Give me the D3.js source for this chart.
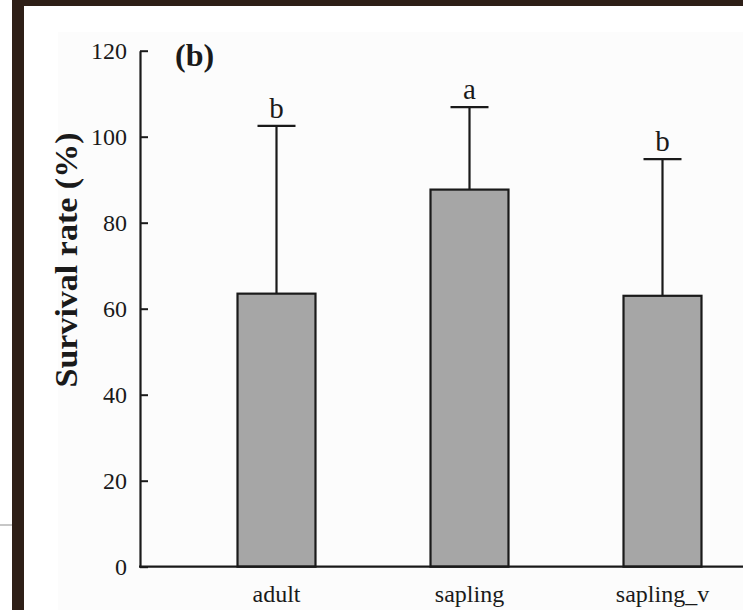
<!DOCTYPE html>
<html>
<head>
<meta charset="utf-8">
<script src="https://cdn.jsdelivr.net/npm/d3@7"></script>
<style>
  body { margin: 0; background: #fff; }
  svg { display: block; }
</style>
</head>
<body>
<div id="chart"></div>
<script>
// survival rate data
var categories = ['adult', 'sapling', 'sapling_v'];
var means = [63.5, 87.7, 63.0];
var sds = [39.0, 19.2, 31.8];
var letters = ['b', 'a', 'b'];
var yTicks = [0, 20, 40, 60, 80, 100, 120];

var width = 743, height = 610;
var fontFam = '"Liberation Serif", "Times New Roman", serif';

var svg = d3.select('#chart').append('svg')
    .attr('width', width)
    .attr('height', height);

// photo frame bits
svg.append('rect').attr('x', 0).attr('y', 0).attr('width', width).attr('height', height).attr('fill', '#ffffff');
svg.append('rect').attr('x', 12).attr('y', 0).attr('width', width - 12).attr('height', 6).attr('fill', '#2e1f17');
svg.append('rect').attr('x', 12).attr('y', 0).attr('width', 12).attr('height', height).attr('fill', '#2e1f17');
svg.append('line').attr('x1', 0).attr('x2', 12).attr('y1', 525).attr('y2', 525)
    .attr('stroke', '#b5b5b5').attr('stroke-width', 1.5);
svg.append('rect').attr('x', 58).attr('y', 32).attr('width', width - 58).attr('height', height - 32)
    .attr('fill', '#fcfcfc');

var y = d3.scaleLinear().domain([0, 120]).range([566.7, 50.7]);
var x = d3.scaleBand().domain(categories).range([180, 759])
    .paddingInner(0.596).paddingOuter(0.298);

var g = svg.append('g');

// bars
g.selectAll('rect.bar')
    .data(categories)
    .enter()
    .append('rect')
    .attr('class', 'bar')
    .attr('x', function (d) { return x(d); })
    .attr('width', x.bandwidth())
    .attr('y', function (d, i) { return y(means[i]); })
    .attr('height', function (d, i) { return y(0) - y(means[i]); })
    .attr('fill', '#a6a6a6')
    .attr('stroke', '#1a1a1a')
    .attr('stroke-width', 2.2);

// error bars (upper only)
var capW = 38;
g.selectAll('line.err')
    .data(categories)
    .enter()
    .append('line')
    .attr('x1', function (d) { return x(d) + x.bandwidth() / 2; })
    .attr('x2', function (d) { return x(d) + x.bandwidth() / 2; })
    .attr('y1', function (d, i) { return y(means[i]); })
    .attr('y2', function (d, i) { return y(means[i] + sds[i]); })
    .attr('stroke', '#1a1a1a')
    .attr('stroke-width', 2.2);

g.selectAll('line.cap')
    .data(categories)
    .enter()
    .append('line')
    .attr('x1', function (d) { return x(d) + x.bandwidth() / 2 - capW / 2; })
    .attr('x2', function (d) { return x(d) + x.bandwidth() / 2 + capW / 2; })
    .attr('y1', function (d, i) { return y(means[i] + sds[i]); })
    .attr('y2', function (d, i) { return y(means[i] + sds[i]); })
    .attr('stroke', '#1a1a1a')
    .attr('stroke-width', 2.2);

// significance letters
g.selectAll('text.sig')
    .data(categories)
    .enter()
    .append('text')
    .text(function (d, i) { return letters[i]; })
    .attr('x', function (d) { return x(d) + x.bandwidth() / 2; })
    .attr('y', function (d, i) { return y(means[i] + sds[i]) - 8; })
    .attr('text-anchor', 'middle')
    .style('font-family', fontFam)
    .style('font-size', '29px')
    .style('fill', '#1a1a1a');

// y axis
var yAxis = d3.axisLeft(y).tickValues(yTicks).tickSize(-8).tickSizeOuter(0).tickPadding(13);
var ga = svg.append('g').attr('transform', 'translate(140,0)').call(yAxis);
ga.select('.domain').attr('stroke', '#1a1a1a').attr('stroke-width', 2.2);
ga.selectAll('.tick line').attr('stroke', '#1a1a1a').attr('stroke-width', 2);
ga.selectAll('.tick text')
    .style('font-family', fontFam)
    .style('font-size', '24px')
    .style('fill', '#1a1a1a');

// x axis
svg.append('line')
    .attr('x1', 139).attr('x2', width)
    .attr('y1', y(0)).attr('y2', y(0))
    .attr('stroke', '#1a1a1a').attr('stroke-width', 2.2);
var xAxis = d3.axisBottom(x).tickSize(0).tickPadding(18);
var gx = svg.append('g').attr('transform', 'translate(0,' + y(0) + ')').call(xAxis);
gx.select('.domain').remove();
gx.selectAll('.tick text')
    .style('font-family', fontFam)
    .style('font-size', '24px')
    .style('fill', '#1a1a1a');

// y label
svg.append('text')
    .text('Survival rate (%)')
    .attr('transform', 'translate(77,260) rotate(-90)')
    .attr('text-anchor', 'middle')
    .attr('textLength', 255)
    .attr('lengthAdjust', 'spacingAndGlyphs')
    .style('font-family', fontFam)
    .style('font-weight', 'bold')
    .style('font-size', '31px')
    .style('fill', '#1a1a1a');

// panel tag
svg.append('text')
    .text('(b)')
    .attr('x', 175)
    .attr('y', 66)
    .style('font-family', fontFam)
    .style('font-weight', 'bold')
    .style('font-size', '32px')
    .style('fill', '#1a1a1a');
</script>
</body>
</html>
